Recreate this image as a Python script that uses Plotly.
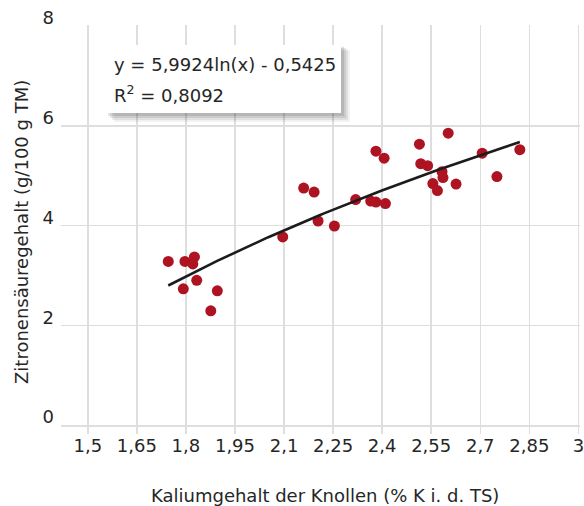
import numpy as np
import plotly.graph_objects as go

# --- data ---
kalium = [1.746, 1.797, 1.826, 1.821, 1.792, 1.833, 1.896, 1.876, 2.096, 2.160,
          2.192, 2.204, 2.254, 2.319, 2.365, 2.381, 2.410, 2.381, 2.406, 2.514,
          2.518, 2.539, 2.583, 2.586, 2.555, 2.569, 2.602, 2.626, 2.706, 2.751,
          2.821]
zitronensaeure = [3.28, 3.28, 3.37, 3.23, 2.73, 2.90, 2.69, 2.29, 3.77, 4.75,
                  4.67, 4.09, 3.99, 4.52, 4.49, 4.47, 4.44, 5.49, 5.35, 5.63,
                  5.24, 5.20, 5.08, 4.96, 4.84, 4.70, 5.85, 4.83, 5.45, 4.98,
                  5.52]

# trendline coefficients as printed on the chart: y = a*ln(x) + b
coef_a = 5.9924
coef_b = -0.5425
r_squared = "0,8092"

x_tickvals = [1.5, 1.65, 1.8, 1.95, 2.1, 2.25, 2.4, 2.55, 2.7, 2.85, 3.0]
x_ticktext = ["1,5", "1,65", "1,8", "1,95", "2,1", "2,25", "2,4", "2,55", "2,7", "2,85", "3"]
y_tickvals = [0, 2, 4, 6, 8]
y_ticktext = ["0", "2", "4", "6", "8"]

x_title = "Kaliumgehalt der Knollen (% K i. d. TS)"
y_title = "Zitronensäuregehalt (g/100 g TM)"
eq_text = "y = 5,9924ln(x) - 0,5425"

FONT = "DejaVu Sans"
TXT = "#262626"
GRID = "#dedede"

trend_x = np.linspace(min(kalium), max(kalium), 80)
trend_y = coef_a * np.log(trend_x) + coef_b

fig = go.Figure()
fig.add_trace(go.Scatter(x=kalium, y=zitronensaeure, mode="markers",
                         marker=dict(size=11, color="#ae1322", line=dict(width=0)),
                         showlegend=False, hoverinfo="skip", cliponaxis=False))
fig.add_trace(go.Scatter(x=trend_x, y=trend_y, mode="lines",
                         line=dict(color="#1c1c1c", width=2.6),
                         showlegend=False, hoverinfo="skip"))

# equation box with soft shadow (paper coords computed from pixel layout)
L, R, T, B = 61, 580, 25, 425
def px(x):
    return (x - L) / (R - L)
def py(y):
    return (B - y) / (B - T)

shapes = []
for off, op in [(9, 0.05), (7, 0.07), (5, 0.09), (3, 0.10)]:
    shapes.append(dict(type="rect", xref="paper", yref="paper",
                       x0=px(105 + off), x1=px(341 + off), y0=py(113 + off), y1=py(45 + off * 0.6),
                       fillcolor="rgba(0,0,0,%.2f)" % op, line=dict(width=0), layer="above"))
shapes.append(dict(type="rect", xref="paper", yref="paper",
                   x0=px(105), x1=px(341), y0=py(113), y1=py(45),
                   fillcolor="white", line=dict(width=0), layer="above"))

annotations = [
    dict(text=eq_text, xref="paper", yref="paper", x=px(112), y=py(64),
         xanchor="left", yanchor="middle", showarrow=False,
         font=dict(family=FONT, size=18, color=TXT)),
    dict(text="R<sup>2</sup> = " + r_squared, xref="paper", yref="paper", x=px(112), y=py(94),
         xanchor="left", yanchor="middle", showarrow=False,
         font=dict(family=FONT, size=18, color=TXT)),
    dict(text=x_title, xref="paper", yref="paper", x=px(325), y=py(495),
         xanchor="center", yanchor="middle", showarrow=False,
         font=dict(family=FONT, size=18, color=TXT)),
    dict(text=y_title, xref="paper", yref="paper", x=px(21), y=py(232),
         xanchor="center", yanchor="middle", showarrow=False, textangle=-90,
         font=dict(family=FONT, size=18, color=TXT)),
]

fig.update_layout(
    width=584, height=506,
    margin=dict(l=L, r=584 - R, t=T, b=506 - B, pad=0, autoexpand=False),
    paper_bgcolor="white", plot_bgcolor="white",
    font=dict(family=FONT, size=18, color=TXT),
    shapes=shapes, annotations=annotations,
    xaxis=dict(range=[1.418, 3.005], tickvals=x_tickvals, ticktext=x_ticktext,
               showgrid=True, gridcolor=GRID, gridwidth=1.5,
               ticks="outside", ticklen=7, tickcolor=GRID, tickwidth=1.5,
               showline=True, linecolor=GRID, linewidth=1.5,
               zeroline=False, automargin=False, ticklabeloverflow="allow",
               ticklabelstandoff=-3,
               tickfont=dict(family=FONT, size=18, color=TXT)),
    yaxis=dict(range=[0, 8.02], tickvals=y_tickvals, ticktext=y_ticktext,
               showgrid=True, gridcolor=GRID, gridwidth=1.5,
               ticks="", showline=False, zeroline=False, automargin=False,
               ticklabeloverflow="allow",
               ticklabelshift=-8, ticklabelstandoff=6,
               tickfont=dict(family=FONT, size=18, color=TXT)),
)

fig.write_html("out.html", config={"displayModeBar": False, "staticPlot": True},
               post_script="document.body.style.margin='0';document.body.style.padding='0';"
                           "document.documentElement.style.overflow='hidden';")
